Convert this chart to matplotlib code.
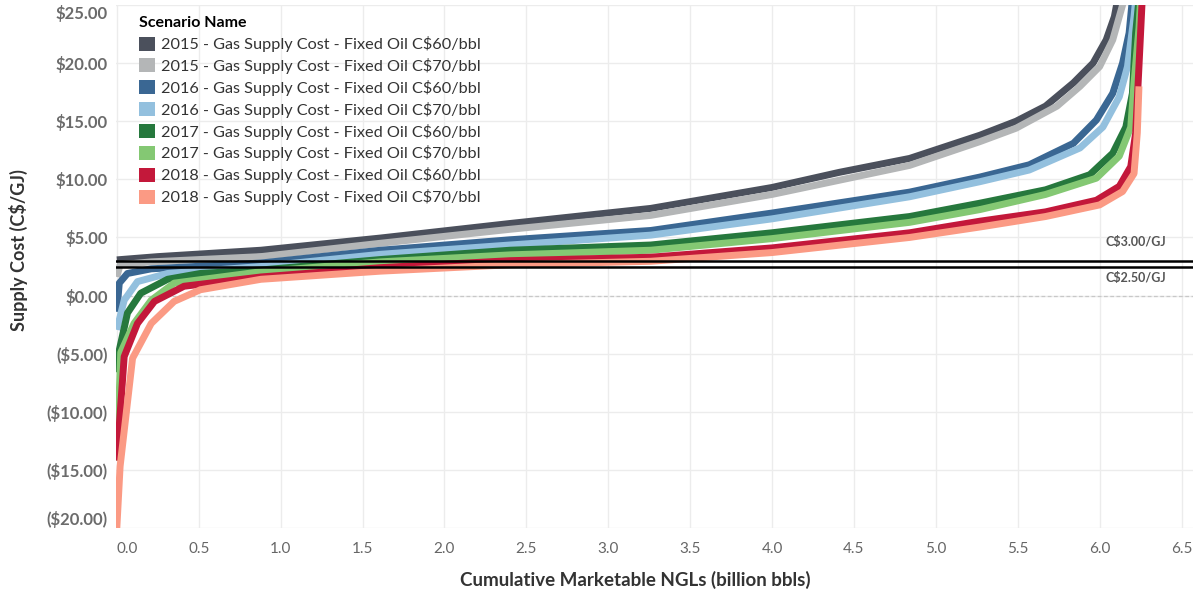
import matplotlib
matplotlib.use('Agg')
import matplotlib.pyplot as plt
from matplotlib.patches import Patch

plt.rcParams['font.family'] = ['Lato', 'DejaVu Sans']

# scenario names and colours
names = ['2015 - Gas Supply Cost - Fixed Oil C$60/bbl',
         '2015 - Gas Supply Cost - Fixed Oil C$70/bbl',
         '2016 - Gas Supply Cost - Fixed Oil C$60/bbl',
         '2016 - Gas Supply Cost - Fixed Oil C$70/bbl',
         '2017 - Gas Supply Cost - Fixed Oil C$60/bbl',
         '2017 - Gas Supply Cost - Fixed Oil C$70/bbl',
         '2018 - Gas Supply Cost - Fixed Oil C$60/bbl',
         '2018 - Gas Supply Cost - Fixed Oil C$70/bbl']
colors = ['#4b505c', '#b4b6b7', '#3a6793', '#93c0de',
          '#26783d', '#84c873', '#c3183a', '#fb9a84']

# cumulative NGLs (billion bbls) vs supply cost (C$/GJ)
x15_60 = [0, 0.25, 0.88, 1.61, 2.4, 3.26, 4.0, 4.41, 4.84, 5.27, 5.49, 5.67, 5.84, 5.96, 6.04, 6.09, 6.11]
y15_60 = [3.07, 3.35, 3.9, 4.95, 6.2, 7.5, 9.3, 10.6, 11.8, 13.8, 15.0, 16.3, 18.3, 20.0, 22.0, 24.0, 25.5]
x15_70 = [0, 0.02, 0.21, 0.88, 1.61, 2.4, 3.26, 4.0, 4.84, 5.27, 5.49, 5.74, 5.88, 6.0, 6.08, 6.15]
y15_70 = [1.6, 2.65, 2.9, 3.35, 4.5, 5.7, 6.9, 8.7, 11.2, 13.25, 14.4, 16.3, 18.0, 19.7, 22.0, 25.5]
x16_60 = [0, 0.015, 0.065, 0.21, 0.88, 1.61, 2.4, 3.26, 4.0, 4.84, 5.27, 5.57, 5.84, 5.98, 6.08, 6.14, 6.18, 6.2]
y16_60 = [-1.4, 1.07, 1.9, 2.3, 2.8, 3.9, 4.8, 5.6, 7.1, 8.9, 10.2, 11.25, 13.1, 15.1, 17.4, 20.0, 22.6, 25.5]
x16_70 = [0, 0.045, 0.126, 0.31, 0.88, 1.61, 2.4, 3.26, 4.0, 4.84, 5.27, 5.57, 5.88, 6.02, 6.12, 6.17, 6.21, 6.22]
y16_70 = [-2.95, -0.4, 1.2, 1.9, 2.5, 3.55, 4.35, 5.2, 6.6, 8.5, 9.8, 10.8, 12.7, 14.5, 17.1, 19.7, 24.0, 25.5]
x17_60 = [0, 0.015, 0.065, 0.146, 0.31, 0.51, 0.88, 1.61, 2.4, 3.26, 4.0, 4.84, 5.27, 5.67, 5.94, 6.08, 6.16, 6.2, 6.22, 6.24]
y17_60 = [-6.6, -4.7, -1.5, 0.2, 1.4, 1.9, 2.2, 3.1, 3.9, 4.35, 5.4, 6.8, 7.95, 9.1, 10.4, 12.25, 14.5, 17.4, 22.6, 25.5]
x17_70 = [0, 0.024, 0.105, 0.21, 0.35, 0.88, 1.61, 2.4, 3.26, 4.0, 4.84, 5.27, 5.67, 5.98, 6.12, 6.19, 6.21, 6.24, 6.25]
y17_70 = [-14.2, -4.9, -2.4, -0.4, 1.07, 2.05, 2.9, 3.5, 3.9, 4.9, 6.3, 7.4, 8.7, 10.1, 12.0, 14.5, 18.3, 23.0, 25.5]
x18_60 = [0, 0.045, 0.126, 0.23, 0.41, 0.88, 1.61, 2.4, 3.26, 4.0, 4.84, 5.27, 5.67, 5.98, 6.12, 6.19, 6.22, 6.24, 6.26]
y18_60 = [-14.2, -5.25, -2.4, -0.5, 0.8, 1.6, 2.4, 3.0, 3.3, 4.1, 5.4, 6.4, 7.2, 8.2, 9.4, 11.1, 14.0, 19.7, 25.5]
x18_70 = [0, 0.02, 0.096, 0.21, 0.35, 0.51, 0.88, 1.61, 2.4, 3.26, 4.0, 4.84, 5.27, 5.67, 6.0, 6.14, 6.21, 6.23, 6.24]
y18_70 = [-20, -14.7, -5.4, -2.4, -0.5, 0.5, 1.4, 2.1, 2.65, 2.95, 3.7, 5.0, 5.9, 6.8, 7.8, 8.95, 10.5, 14.0, 18.0]

xs = [x15_60, x15_70, x16_60, x16_70, x17_60, x17_70, x18_60, x18_70]
ys = [y15_60, y15_70, y16_60, y16_70, y17_60, y17_70, y18_60, y18_70]

ref_levels = [3.0, 2.5]
ref_labels = ['C$3.00/GJ', 'C$2.50/GJ']

x_ticks = [0.0, 0.5, 1.0, 1.5, 2.0, 2.5, 3.0, 3.5, 4.0, 4.5, 5.0, 5.5, 6.0, 6.5]
y_ticks = [25, 20, 15, 10, 5, 0, -5, -10, -15, -20]
y_ticklabels = ['$25.00', '$20.00', '$15.00', '$10.00', '$5.00', '$0.00',
                '($5.00)', '($10.00)', '($15.00)', '($20.00)']

fig = plt.figure(figsize=(11.93, 5.98), dpi=100)
ax = fig.add_axes([116 / 1193, 1 - 528 / 598, 1 - 116 / 1193, (528 - 5) / 598])

for x, y, c in zip(xs, ys, colors):
    ax.plot(x, y, color=c, lw=5, solid_capstyle='butt', solid_joinstyle='round', zorder=3)

for lv in ref_levels:
    ax.axhline(lv, color='black', lw=1.8, zorder=5)
ax.annotate(ref_labels[0], (6.22, ref_levels[0]), xytext=(0, 9), textcoords='offset points',
            ha='center', va='bottom', fontsize=9, fontweight='bold', color='#555555')
ax.annotate(ref_labels[1], (6.22, ref_levels[1]), xytext=(0, -4), textcoords='offset points',
            ha='center', va='top', fontsize=9, fontweight='bold', color='#555555')

ax.axhline(0, color='#c8c8c8', lw=0.9, ls=(0, (3, 2)), zorder=1)

ax.set_xlim(-0.005, 6.57)
ax.set_ylim(-20, 25)
ax.set_xticks(x_ticks)
ax.set_xticklabels(['%.1f' % t for t in x_ticks], fontsize=11, color='#666666')
ax.set_yticks(y_ticks)
ax.set_yticklabels(y_ticklabels, fontsize=12, fontweight='bold', color='#6b6b6b')
ax.tick_params(axis='both', length=0)
ax.tick_params(axis='x', pad=10)
ax.tick_params(axis='y', pad=6)
ylabs = ax.get_yticklabels()
ylabs[0].set_va('top')
ylabs[-1].set_va('bottom')
ax.get_xticklabels()[0].set_ha('left')

ax.grid(True, color='#ececec', lw=1, zorder=0)
ax.set_axisbelow(True)
for s in ax.spines.values():
    s.set_visible(False)

handles = [Patch(facecolor=c, edgecolor='none') for c in colors]
leg = ax.legend(handles, names, loc='upper left', bbox_to_anchor=(0.011, 1.0),
                frameon=False, fontsize=11.7, title='Scenario Name',
                title_fontproperties={'weight': 'bold', 'size': 11.5},
                alignment='left', handlelength=0.95, handleheight=0.95,
                handletextpad=0.4, labelspacing=0.36, borderpad=0.2)
for t in leg.get_texts():
    t.set_color('#333333')

fig.text(18 / 1193, 1 - 250 / 598, 'Supply Cost (C$/GJ)', rotation=90, ha='center', va='center',
         fontsize=13, fontweight='bold', color='#333333')
fig.text(635 / 1193, 1 - 580 / 598, 'Cumulative Marketable NGLs (billion bbls)', ha='center',
         va='center', fontsize=13.5, fontweight='bold', color='#333333')

fig.savefig('out.png', dpi=100)
